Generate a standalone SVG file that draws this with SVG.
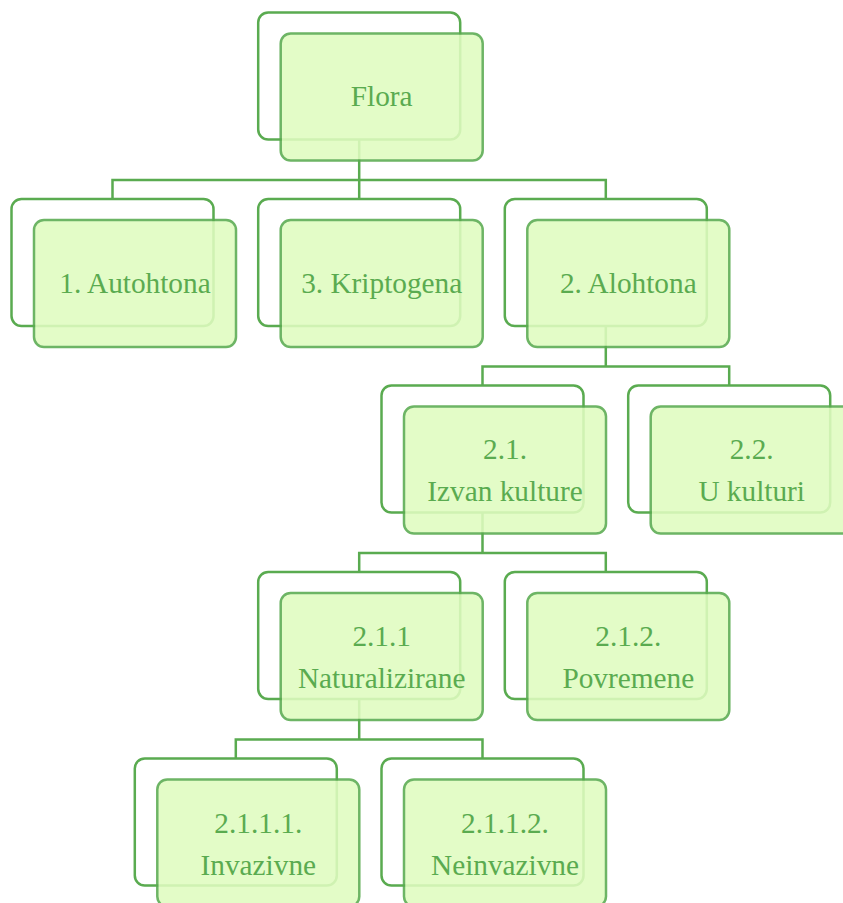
<svg xmlns="http://www.w3.org/2000/svg" width="843" height="903" viewBox="0 0 843 903">
<style>
.bk{fill:#ffffff;stroke:#5aab50;stroke-width:2.5}
.fr{fill:#e0fcc0;stroke:#5aab50;stroke-width:2.5;opacity:0.88}
.cn{fill:none;stroke:#5aab50;stroke-width:2.5}
.t{font-family:"Liberation Serif","Times New Roman",serif;font-size:29.3px;fill:#5aab50;text-anchor:middle}
</style>
<rect width="843" height="903" fill="#ffffff"/>
<g id="connectors">
<path class="cn" d="M359.2,139.5V180M112.5,199V180H605.8V199M359.2,180V199"/>
<path class="cn" d="M605.8,326V366.5M482.5,385.5V366.5H729.2V385.5"/>
<path class="cn" d="M482.5,512.5V553M359.2,572V553H605.8V572"/>
<path class="cn" d="M359.2,699V739.5M235.8,758.5V739.5H482.5V758.5"/>
</g>
<g id="flora"><rect class="bk" x="258.2" y="12.5" width="202" height="127" rx="10"/><rect class="fr" x="280.7" y="33.5" width="202" height="127" rx="10"/><text class="t" x="381.7" y="106">Flora</text></g>
<g id="autohtona"><rect class="bk" x="11.5" y="199" width="202" height="127" rx="10"/><rect class="fr" x="34" y="220" width="202" height="127" rx="10"/><text class="t" x="135" y="292.5">1. Autohtona</text></g>
<g id="kriptogena"><rect class="bk" x="258.2" y="199" width="202" height="127" rx="10"/><rect class="fr" x="280.7" y="220" width="202" height="127" rx="10"/><text class="t" x="381.7" y="292.5">3. Kriptogena</text></g>
<g id="alohtona"><rect class="bk" x="504.8" y="199" width="202" height="127" rx="10"/><rect class="fr" x="527.3" y="220" width="202" height="127" rx="10"/><text class="t" x="628.3" y="292.5">2. Alohtona</text></g>
<g id="izvan"><rect class="bk" x="381.5" y="385.5" width="202" height="127" rx="10"/><rect class="fr" x="404" y="406.5" width="202" height="127" rx="10"/><text class="t" x="505" y="459">2.1.</text><text class="t" x="505" y="501">Izvan kulture</text></g>
<g id="ukulturi"><rect class="bk" x="628.2" y="385.5" width="202" height="127" rx="10"/><rect class="fr" x="650.7" y="406.5" width="202" height="127" rx="10"/><text class="t" x="751.7" y="459">2.2.</text><text class="t" x="751.7" y="501">U kulturi</text></g>
<g id="naturalizirane"><rect class="bk" x="258.2" y="572" width="202" height="127" rx="10"/><rect class="fr" x="280.7" y="593" width="202" height="127" rx="10"/><text class="t" x="381.7" y="645.5">2.1.1</text><text class="t" x="381.7" y="687.5">Naturalizirane</text></g>
<g id="povremene"><rect class="bk" x="504.8" y="572" width="202" height="127" rx="10"/><rect class="fr" x="527.3" y="593" width="202" height="127" rx="10"/><text class="t" x="628.3" y="645.5">2.1.2.</text><text class="t" x="628.3" y="687.5">Povremene</text></g>
<g id="invazivne"><rect class="bk" x="134.8" y="758.5" width="202" height="127" rx="10"/><rect class="fr" x="157.3" y="779.5" width="202" height="127" rx="10"/><text class="t" x="258.3" y="832.5">2.1.1.1.</text><text class="t" x="258.3" y="874.5">Invazivne</text></g>
<g id="neinvazivne"><rect class="bk" x="381.5" y="758.5" width="202" height="127" rx="10"/><rect class="fr" x="404" y="779.5" width="202" height="127" rx="10"/><text class="t" x="505" y="832.5">2.1.1.2.</text><text class="t" x="505" y="874.5">Neinvazivne</text></g>
</svg>
